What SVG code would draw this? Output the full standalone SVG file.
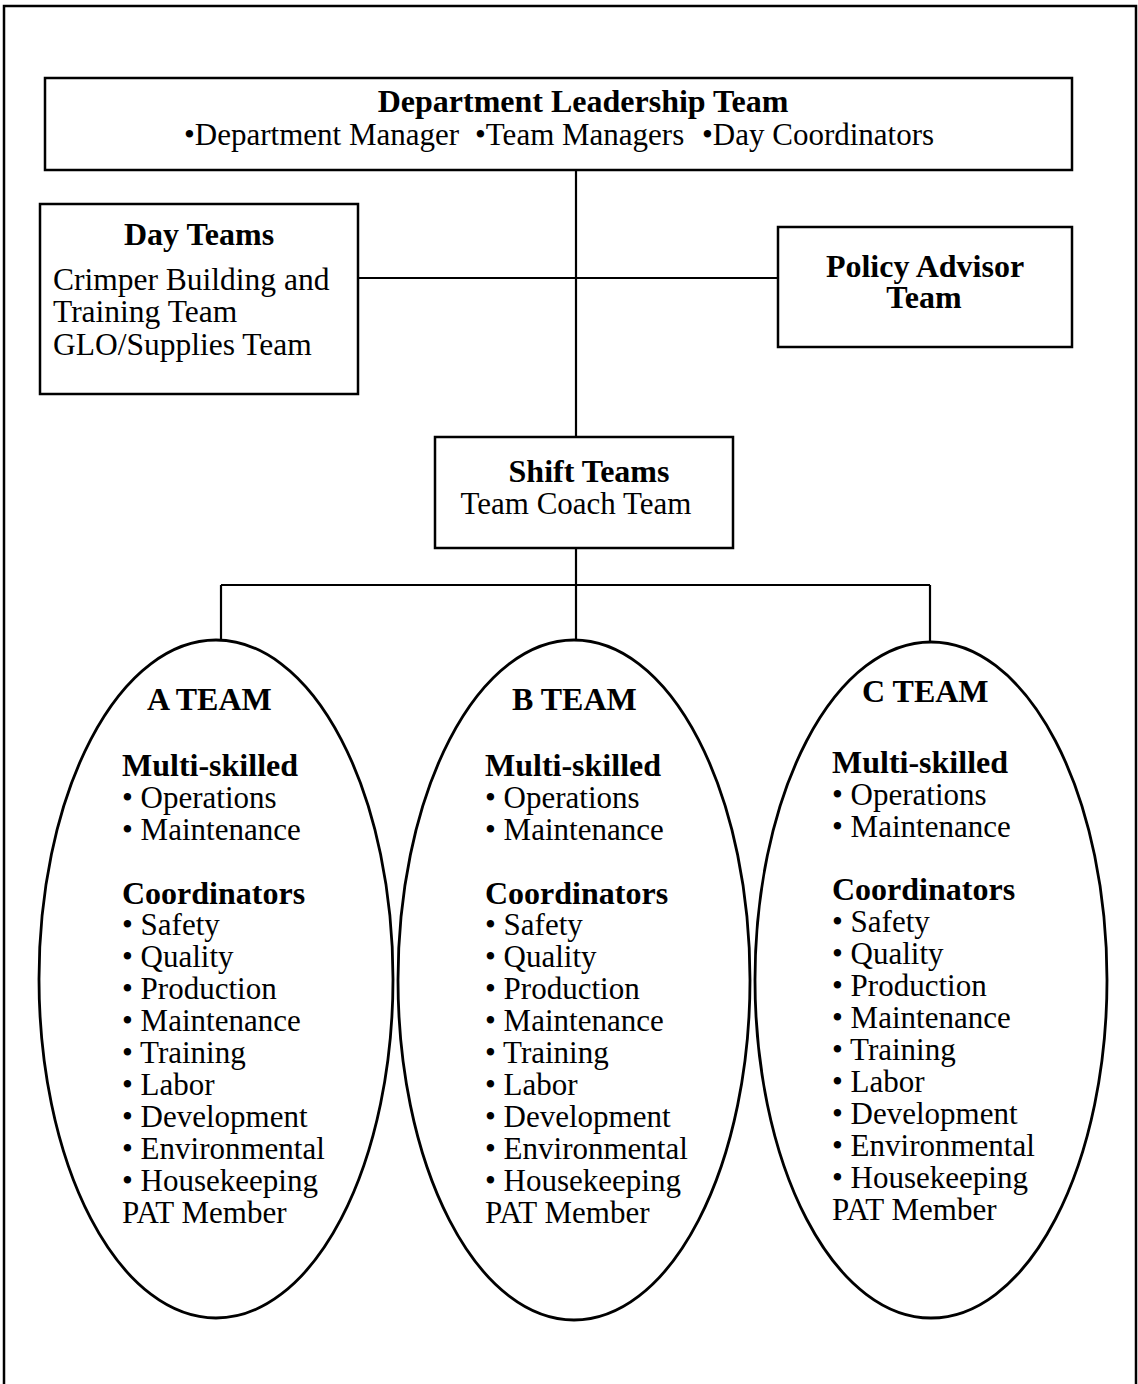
<svg xmlns="http://www.w3.org/2000/svg" width="1138" height="1384" viewBox="0 0 1138 1384">
  <style>
    .frame { fill: none; stroke: #000; stroke-width: 2.5; }
    .box { fill: #fff; stroke: #000; stroke-width: 2.5; }
    .oval { fill: none; stroke: #000; stroke-width: 2.8; }
    .link { fill: none; stroke: #000; stroke-width: 2.2; }
    text { font-family: "Liberation Serif", "Times New Roman", serif; fill: #000; }
    .b { font-weight: bold; font-size: 32px; }
    .r { font-size: 31px; }
    .mid { text-anchor: middle; }
  </style>

  <!-- page frame -->
  <path class="frame" d="M4,1384 V6 H1136 V1384"/>

  <!-- connectors -->
  <g id="connectors">
    <path class="link" d="M576,170 V437"/>
    <path class="link" d="M358,278 H778"/>
    <path class="link" d="M576,548 V640"/>
    <path class="link" d="M221,585 H930"/>
    <path class="link" d="M221,585 V640"/>
    <path class="link" d="M930,585 V642"/>
  </g>

  <!-- leadership -->
  <g id="leadership">
    <rect class="box" x="45" y="78" width="1027" height="92"/>
    <text class="b mid" x="583" y="112">Department Leadership Team</text>
    <text class="r" y="145"><tspan x="184">•Department Manager</tspan><tspan x="475">•Team Managers</tspan><tspan x="702">•Day Coordinators</tspan></text>
  </g>

  <!-- day teams -->
  <g id="day-teams">
    <rect class="box" x="40" y="204" width="318" height="190"/>
    <text class="b mid" x="199" y="245">Day Teams</text>
    <text style="font-size:31.5px" x="53" y="290">Crimper Building and</text>
    <text style="font-size:31.5px" x="53" y="322">Training Team</text>
    <text style="font-size:31.5px" x="53" y="355">GLO/Supplies Team</text>
  </g>

  <!-- policy advisor -->
  <g id="policy-advisor">
    <rect class="box" x="778" y="227" width="294" height="120"/>
    <text class="b mid" x="925" y="277">Policy Advisor</text>
    <text class="b mid" x="924" y="308">Team</text>
  </g>

  <!-- shift teams -->
  <g id="shift-teams">
    <rect class="box" x="435" y="437" width="298" height="111"/>
    <text class="b mid" x="589" y="482">Shift Teams</text>
    <text class="r mid" x="576" y="514">Team Coach Team</text>
  </g>

  <!-- A team -->
  <g id="a-team">
    <ellipse class="oval" cx="216" cy="979" rx="177" ry="339"/>
    <text class="b" x="147" y="710">A TEAM</text>
    <text class="b" x="122" y="776">Multi-skilled</text>
    <text class="r" x="122" y="808">• Operations</text>
    <text class="r" x="122" y="840">• Maintenance</text>
    <text class="b" x="122" y="904">Coordinators</text>
    <text class="r" x="122" y="935">• Safety</text>
    <text class="r" x="122" y="967">• Quality</text>
    <text class="r" x="122" y="999">• Production</text>
    <text class="r" x="122" y="1031">• Maintenance</text>
    <text class="r" x="122" y="1063">• Training</text>
    <text class="r" x="122" y="1095">• Labor</text>
    <text class="r" x="122" y="1127">• Development</text>
    <text class="r" x="122" y="1159">• Environmental</text>
    <text class="r" x="122" y="1191">• Housekeeping</text>
    <text class="r" x="122" y="1223">PAT Member</text>
  </g>

  <!-- B team -->
  <g id="b-team">
    <ellipse class="oval" cx="574" cy="980" rx="176" ry="340"/>
    <text class="b" x="512" y="710">B TEAM</text>
    <text class="b" x="485" y="776">Multi-skilled</text>
    <text class="r" x="485" y="808">• Operations</text>
    <text class="r" x="485" y="840">• Maintenance</text>
    <text class="b" x="485" y="904">Coordinators</text>
    <text class="r" x="485" y="935">• Safety</text>
    <text class="r" x="485" y="967">• Quality</text>
    <text class="r" x="485" y="999">• Production</text>
    <text class="r" x="485" y="1031">• Maintenance</text>
    <text class="r" x="485" y="1063">• Training</text>
    <text class="r" x="485" y="1095">• Labor</text>
    <text class="r" x="485" y="1127">• Development</text>
    <text class="r" x="485" y="1159">• Environmental</text>
    <text class="r" x="485" y="1191">• Housekeeping</text>
    <text class="r" x="485" y="1223">PAT Member</text>
  </g>

  <!-- C team -->
  <g id="c-team">
    <ellipse class="oval" cx="931" cy="980" rx="176" ry="338"/>
    <text class="b" x="862" y="702">C TEAM</text>
    <text class="b" x="832" y="773">Multi-skilled</text>
    <text class="r" x="832" y="805">• Operations</text>
    <text class="r" x="832" y="837">• Maintenance</text>
    <text class="b" x="832" y="900">Coordinators</text>
    <text class="r" x="832" y="932">• Safety</text>
    <text class="r" x="832" y="964">• Quality</text>
    <text class="r" x="832" y="996">• Production</text>
    <text class="r" x="832" y="1028">• Maintenance</text>
    <text class="r" x="832" y="1060">• Training</text>
    <text class="r" x="832" y="1092">• Labor</text>
    <text class="r" x="832" y="1124">• Development</text>
    <text class="r" x="832" y="1156">• Environmental</text>
    <text class="r" x="832" y="1188">• Housekeeping</text>
    <text class="r" x="832" y="1220">PAT Member</text>
  </g>
</svg>
